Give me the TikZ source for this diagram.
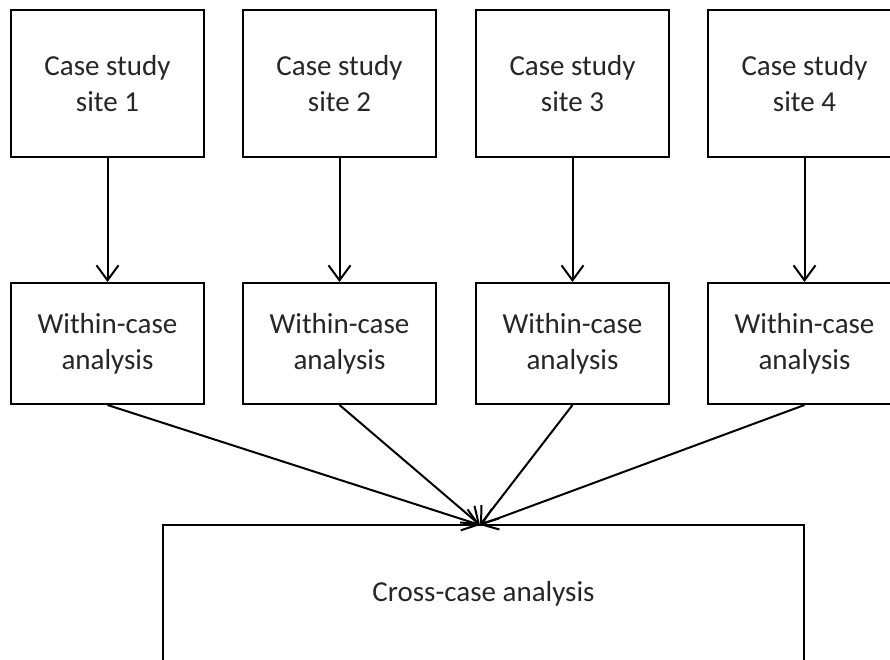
\documentclass[tikz,border=0pt]{standalone}
\usepackage{fontspec}
\setmainfont{Carlito}
\usetikzlibrary{arrows.meta}
\begin{document}
\begin{tikzpicture}[x=1pt,y=-1pt,
  boxstyle/.style={draw=black,line width=2pt,fill=white,inner sep=0pt,align=center,
    font=\fontsize{29}{36}\selectfont,text=black!85},
  sitebox/.style={boxstyle,minimum width=193pt,minimum height=147pt},
  withinbox/.style={boxstyle,minimum width=193pt,minimum height=121pt},
  crossbox/.style={boxstyle,minimum width=641pt,minimum height=138pt},
  link/.style={line width=2pt,-{Straight Barb[length=15pt,width=22pt,line width=2pt]}}]
\useasboundingbox (0,0) rectangle (890,660);
\clip (0,0) rectangle (890,660);
\fill[white] (0,0) rectangle (890,660);
\node[sitebox] (s1) at (107.5,83.5) {Case study\\site 1};
\node[sitebox] (s2) at (339.5,83.5) {Case study\\site 2};
\node[sitebox] (s3) at (572.5,83.5) {Case study\\site 3};
\node[sitebox] (s4) at (804.5,83.5) {Case study\\site 4};
\node[withinbox] (w1) at (107.5,343.5) {Within-case\\analysis};
\node[withinbox] (w2) at (339.5,343.5) {Within-case\\analysis};
\node[withinbox] (w3) at (572.5,343.5) {Within-case\\analysis};
\node[withinbox] (w4) at (804.5,343.5) {Within-case\\analysis};
\node[crossbox] (c) at (483.5,594) {Cross-case analysis};
\coordinate (m) at (480,525);
\foreach \i in {1,2,3,4}{
  \draw[link] (s\i.south) -- (w\i.north);
  \draw[link] (w\i.south) -- (m);
}
\end{tikzpicture}
\end{document}
